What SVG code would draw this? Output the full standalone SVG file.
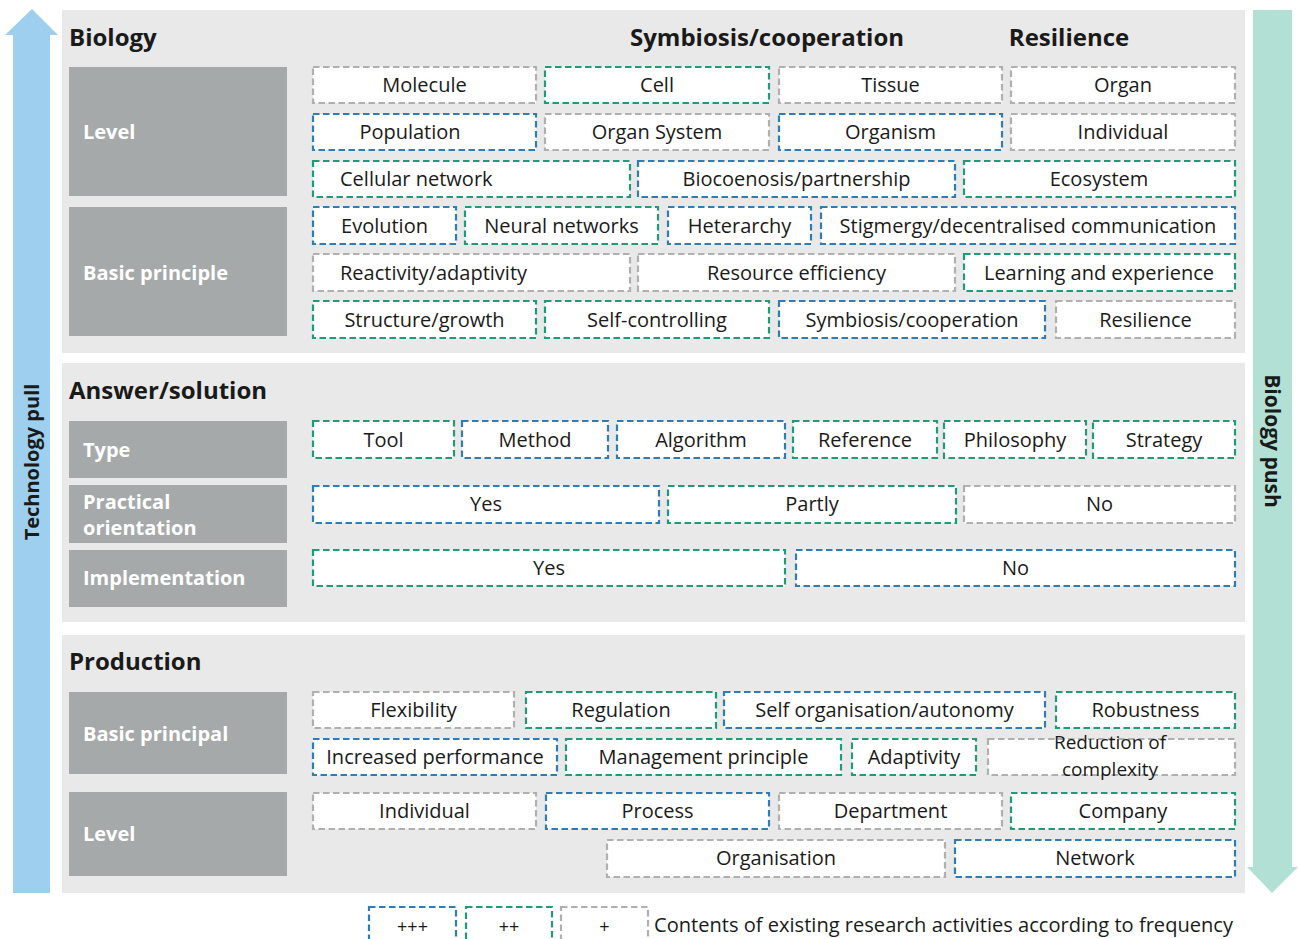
<svg xmlns="http://www.w3.org/2000/svg" width="1299" height="939" viewBox="0 0 1299 939">
<style>
text{font-family:"Open Sans","Noto Sans","Liberation Sans",sans-serif;fill:#1a1a1a}
.t{font-size:20px;text-anchor:middle}
.tl{font-size:20px}
.h{font-size:24px;font-weight:bold}
.lab{fill:#a6a9a9}
.lt{font-size:20px;font-weight:bold;fill:#ffffff}
.bx{fill:#ffffff;stroke-width:2.2;stroke-dasharray:6.5 3.5}
.b{stroke:#2f7db3}
.g{stroke:#22997a}
.n{stroke:#b0b0b0}
.pan{fill:#e9e9e9}
</style>
<rect width="1299" height="939" fill="#ffffff"/>
<g id="arrow-technology-pull">
<polygon points="13,893 13,35 5,35 32,9 58,35 50,35 50,893" fill="#9fcfee"/>
<text transform="translate(39,462) rotate(-90)" style="font-size:20px;font-weight:bold;text-anchor:middle">Technology pull</text>
</g>
<g id="arrow-biology-push">
<polygon points="1253,10 1292,10 1292,867 1298,867 1272,893 1247,867 1253,867" fill="#b2e0d5"/>
<text transform="translate(1265,441) rotate(90)" style="font-size:21px;font-weight:bold;text-anchor:middle">Biology push</text>
</g>
<g id="panels">
<rect class="pan" x="62" y="10" width="1183" height="343"/>
<rect class="pan" x="62" y="363" width="1183" height="259"/>
<rect class="pan" x="62" y="635" width="1183" height="258"/>
</g>
<g id="headings">
<text class="h" x="69" y="46">Biology</text>
<text class="h" x="767" y="46" text-anchor="middle">Symbiosis/cooperation</text>
<text class="h" x="1069" y="46" text-anchor="middle">Resilience</text>
<text class="h" x="69" y="399">Answer/solution</text>
<text class="h" x="69" y="670">Production</text>
</g>
<g id="labels">
<g id="lab-bio-level"><rect class="lab" x="69" y="67" width="218" height="129"/><text class="lt" x="83" y="139">Level</text></g>
<g id="lab-bio-basic"><rect class="lab" x="69" y="207" width="218" height="129"/><text class="lt" x="83" y="280">Basic principle</text></g>
<g id="lab-type"><rect class="lab" x="69" y="421" width="218" height="57"/><text class="lt" x="83" y="457">Type</text></g>
<g id="lab-practical"><rect class="lab" x="69" y="485" width="218" height="58"/><text class="lt" x="83" y="509">Practical</text><text class="lt" x="83" y="535">orientation</text></g>
<g id="lab-implementation"><rect class="lab" x="69" y="550" width="218" height="57"/><text class="lt" x="83" y="585">Implementation</text></g>
<g id="lab-prod-basic"><rect class="lab" x="69" y="692" width="218" height="82"/><text class="lt" x="83" y="741">Basic principal</text></g>
<g id="lab-prod-level"><rect class="lab" x="69" y="792" width="218" height="84"/><text class="lt" x="83" y="841">Level</text></g>
</g>
<g id="bio-level">
<g id="molecule"><rect class="bx n" x="313" y="67" width="223" height="36"/><text class="t" x="424.5" y="92">Molecule</text></g>
<g id="cell"><rect class="bx g" x="545" y="67" width="224" height="36"/><text class="t" x="657" y="92">Cell</text></g>
<g id="tissue"><rect class="bx n" x="779" y="67" width="223" height="36"/><text class="t" x="890.5" y="92">Tissue</text></g>
<g id="organ"><rect class="bx n" x="1011" y="67" width="224" height="36"/><text class="t" x="1123" y="92">Organ</text></g>
<g id="population"><rect class="bx b" x="313" y="114" width="223" height="36"/><text class="t" x="410" y="139">Population</text></g>
<g id="organ-system"><rect class="bx n" x="545" y="114" width="224" height="36"/><text class="t" x="657" y="139">Organ System</text></g>
<g id="organism"><rect class="bx b" x="779" y="114" width="223" height="36"/><text class="t" x="890.5" y="139">Organism</text></g>
<g id="individual-bio"><rect class="bx n" x="1011" y="114" width="224" height="36"/><text class="t" x="1123" y="139">Individual</text></g>
<g id="cellular-network"><rect class="bx g" x="313" y="161" width="317" height="36"/><text class="tl" x="340" y="186">Cellular network</text></g>
<g id="biocoenosis"><rect class="bx b" x="638" y="161" width="317" height="36"/><text class="t" x="796.5" y="186">Biocoenosis/partnership</text></g>
<g id="ecosystem"><rect class="bx g" x="964" y="161" width="271" height="36"/><text class="t" x="1099" y="186">Ecosystem</text></g>
</g>
<g id="bio-basic">
<g id="evolution"><rect class="bx b" x="313" y="207" width="143" height="37"/><text class="t" x="384.5" y="233">Evolution</text></g>
<g id="neural-networks"><rect class="bx g" x="465" y="207" width="193" height="37"/><text class="t" x="561.5" y="233">Neural networks</text></g>
<g id="heterarchy"><rect class="bx b" x="668" y="207" width="143" height="37"/><text class="t" x="739.5" y="233">Heterarchy</text></g>
<g id="stigmergy"><rect class="bx b" x="821" y="207" width="414" height="37"/><text class="t" x="1028" y="233">Stigmergy/decentralised communication</text></g>
<g id="reactivity"><rect class="bx n" x="313" y="254" width="317" height="37"/><text class="tl" x="340" y="280">Reactivity/adaptivity</text></g>
<g id="resource-efficiency"><rect class="bx n" x="638" y="254" width="317" height="37"/><text class="t" x="796.5" y="280">Resource efficiency</text></g>
<g id="learning"><rect class="bx g" x="964" y="254" width="271" height="37"/><text class="t" x="1099" y="280">Learning and experience</text></g>
<g id="structure-growth"><rect class="bx g" x="313" y="301" width="223" height="37"/><text class="t" x="424.5" y="327">Structure/growth</text></g>
<g id="self-controlling"><rect class="bx g" x="545" y="301" width="224" height="37"/><text class="t" x="657" y="327">Self-controlling</text></g>
<g id="symbiosis"><rect class="bx b" x="779" y="301" width="266" height="37"/><text class="t" x="912" y="327">Symbiosis/cooperation</text></g>
<g id="resilience"><rect class="bx n" x="1056" y="301" width="179" height="37"/><text class="t" x="1145.5" y="327">Resilience</text></g>
</g>
<g id="answer">
<g id="tool"><rect class="bx g" x="313" y="421" width="141" height="37"/><text class="t" x="383.5" y="447">Tool</text></g>
<g id="method"><rect class="bx b" x="462" y="421" width="146" height="37"/><text class="t" x="535" y="447">Method</text></g>
<g id="algorithm"><rect class="bx b" x="617" y="421" width="168" height="37"/><text class="t" x="701" y="447">Algorithm</text></g>
<g id="reference"><rect class="bx g" x="793" y="421" width="144" height="37"/><text class="t" x="865" y="447">Reference</text></g>
<g id="philosophy"><rect class="bx g" x="944" y="421" width="142" height="37"/><text class="t" x="1015" y="447">Philosophy</text></g>
<g id="strategy"><rect class="bx g" x="1093" y="421" width="142" height="37"/><text class="t" x="1164" y="447">Strategy</text></g>
<g id="practical-yes"><rect class="bx b" x="313" y="486" width="346" height="37"/><text class="t" x="486" y="511">Yes</text></g>
<g id="practical-partly"><rect class="bx g" x="668" y="486" width="288" height="37"/><text class="t" x="812" y="511">Partly</text></g>
<g id="practical-no"><rect class="bx n" x="964" y="486" width="271" height="37"/><text class="t" x="1099.5" y="511">No</text></g>
<g id="impl-yes"><rect class="bx g" x="313" y="550" width="472" height="36"/><text class="t" x="549" y="575">Yes</text></g>
<g id="impl-no"><rect class="bx b" x="796" y="550" width="439" height="36"/><text class="t" x="1015.5" y="575">No</text></g>
</g>
<g id="production">
<g id="flexibility"><rect class="bx n" x="313" y="692" width="201" height="36"/><text class="t" x="413.5" y="717">Flexibility</text></g>
<g id="regulation"><rect class="bx g" x="526" y="692" width="190" height="36"/><text class="t" x="621" y="717">Regulation</text></g>
<g id="self-organisation"><rect class="bx b" x="724" y="692" width="321" height="36"/><text class="t" x="884.5" y="717">Self organisation/autonomy</text></g>
<g id="robustness"><rect class="bx g" x="1056" y="692" width="179" height="36"/><text class="t" x="1145.5" y="717">Robustness</text></g>
<g id="increased-performance"><rect class="bx b" x="313" y="739" width="244" height="36"/><text class="t" x="435" y="764">Increased performance</text></g>
<g id="management-principle"><rect class="bx g" x="566" y="739" width="275" height="36"/><text class="t" x="703.5" y="764">Management principle</text></g>
<g id="adaptivity"><rect class="bx g" x="852" y="739" width="124" height="36"/><text class="t" x="914" y="764">Adaptivity</text></g>
<g id="reduction"><rect class="bx n" x="988" y="739" width="247" height="36"/><text class="t" x="1110" y="749" style="font-size:19px">Reduction of</text><text class="t" x="1110" y="776" style="font-size:19px">complexity</text></g>
<g id="individual-prod"><rect class="bx n" x="313" y="793" width="223" height="36"/><text class="t" x="424.5" y="818">Individual</text></g>
<g id="process"><rect class="bx b" x="546" y="793" width="223" height="36"/><text class="t" x="657.5" y="818">Process</text></g>
<g id="department"><rect class="bx n" x="779" y="793" width="223" height="36"/><text class="t" x="890.5" y="818">Department</text></g>
<g id="company"><rect class="bx g" x="1011" y="793" width="224" height="36"/><text class="t" x="1123" y="818">Company</text></g>
<g id="organisation"><rect class="bx n" x="607" y="840" width="338" height="37"/><text class="t" x="776" y="865">Organisation</text></g>
<g id="network"><rect class="bx b" x="955" y="840" width="280" height="37"/><text class="t" x="1095" y="865">Network</text></g>
</g>
<g id="legend">
<g id="legend-high"><rect class="bx b" x="369" y="907" width="87" height="40"/><text class="t" x="412.5" y="933" style="font-size:18px">+++</text></g>
<g id="legend-mid"><rect class="bx g" x="466" y="907" width="86" height="40"/><text class="t" x="509" y="933" style="font-size:18px">++</text></g>
<g id="legend-low"><rect class="bx n" x="561" y="907" width="87" height="40"/><text class="t" x="604.5" y="933" style="font-size:18px">+</text></g>
<text x="654" y="932" style="font-size:20px" textLength="579" lengthAdjust="spacingAndGlyphs">Contents of existing research activities according to frequency</text>
</g>
<g id="connectors"></g>
</svg>
